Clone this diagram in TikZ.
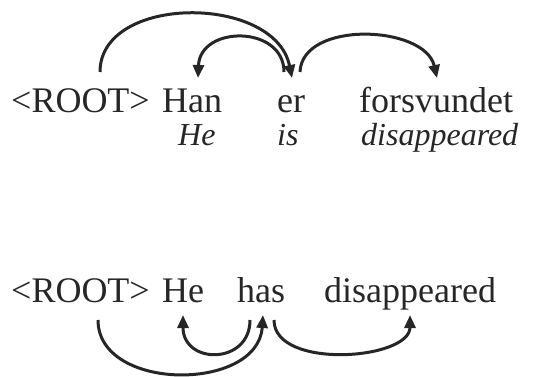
\documentclass[tikz,border=0pt]{standalone}
\usepackage{fontspec}
\setmainfont{Liberation Serif}
\usetikzlibrary{arrows.meta}
\definecolor{ink}{HTML}{262626}
\begin{document}
\begin{tikzpicture}[x=1pt,y=-1pt,
  word/.style={anchor=base west,inner sep=0pt,text=ink,font=\fontsize{36}{40}\selectfont},
  gloss/.style={anchor=base west,inner sep=0pt,text=ink,font=\fontsize{32}{35}\selectfont\itshape},
  dep/.style={draw=ink,line width=3pt,-{Triangle[length=13pt,width=11pt]}}]
\useasboundingbox (0,0) rectangle (541,376);
% top sentence
\node[word] (root1) at (11,112) {<ROOT>};
\node[word] (han) at (162,112) {Han};
\node[word] (er) at (277,112) {er};
\node[word] (fors) at (359,112) {forsvundet};
\node[gloss] (he1) at (178,145) {He};
\node[gloss] (is) at (277,145) {is};
\node[gloss] (dis1) at (361,145) {disappeared};
\coordinate (r1s) at (100,72);
\coordinate (er1t) at (292,78);
\coordinate (er1a) at (284,72);
\coordinate (er1b) at (300,72);
\coordinate (hant) at (198,78);
\coordinate (forst) at (437,78);
\draw[dep] (r1s) .. controls (100,-6) and (275,-6) .. (er1t);
\draw[dep] (er1a) .. controls (284,25) and (200,25) .. (hant);
\draw[dep] (er1b) .. controls (302,20) and (425,25) .. (forst);
% bottom sentence
\node[word] (root2) at (11,302) {<ROOT>};
\node[word] (he2) at (162,302) {He};
\node[word] (has) at (237,302) {has};
\node[word] (dis2) at (324,302) {disappeared};
\coordinate (r2s) at (98,320);
\coordinate (hast) at (263,315);
\coordinate (hasa) at (250,320);
\coordinate (hasb) at (274,320);
\coordinate (he2t) at (183,315);
\coordinate (dis2t) at (410,315);
\draw[dep] (r2s) .. controls (98,392) and (258,392) .. (hast);
\draw[dep] (hasa) .. controls (250,365) and (183,365) .. (he2t);
\draw[dep] (hasb) .. controls (274,370) and (410,360) .. (dis2t);
\end{tikzpicture}
\end{document}
